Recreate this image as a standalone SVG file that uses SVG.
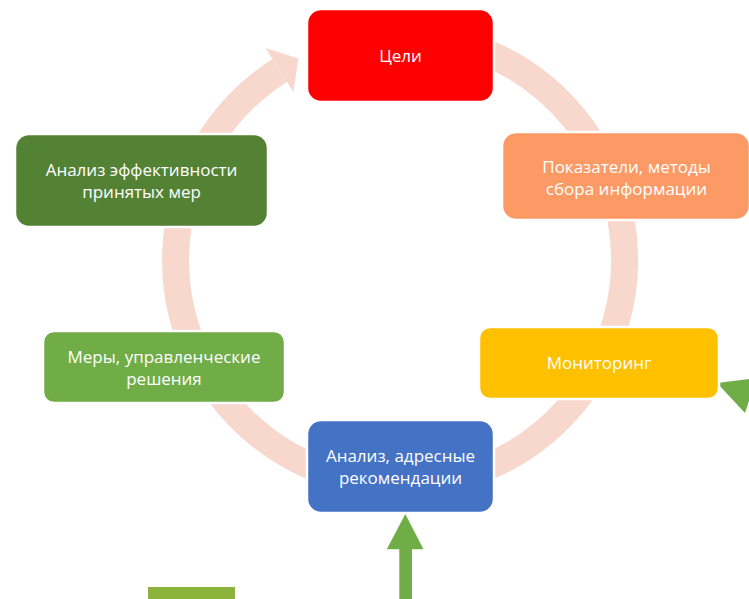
<svg xmlns="http://www.w3.org/2000/svg" width="749" height="599" viewBox="0 0 749 599">
<style>
.box{stroke:#fff;stroke-width:2.5}
.t{font-family:"Open Sans","Noto Sans","DejaVu Sans",sans-serif;font-size:17px;fill:#fff;text-anchor:middle}
.ring{fill:none;stroke:#F8D7CC;stroke-width:27}
.head{fill:#F8D7CC}
.garrow{fill:#70AD47}
</style>
<rect width="749" height="599" fill="#fff"/>
<g id="connectors">
<path class="ring" d="M 380.43 36.35 A 224.5 224.5 0 1 1 279.7 70.5"/>
<polygon class="head" points="265.5,48.1 298.3,58.6 293.4,92.0"/>
<polygon class="garrow" points="717,383 756.5,378 745,413"/>
<path class="garrow" d="M405.3,514 L423.5,549.3 L412,549.3 L412,599 L399.3,599 L399.3,549.3 L386.8,549.3 Z"/>
</g>
<g id="n-goals">
<rect class="box" x="307" y="9" width="187" height="93" rx="14" fill="#FF0000"/>
<text class="t" x="400.5" y="61.5">Цели</text>
</g>
<g id="n-indicators">
<rect class="box" x="502" y="132" width="248" height="88" rx="14" fill="#FC9A66"/>
<text class="t" x="626.5" y="172.5">Показатели, методы</text>
<text class="t" x="626.5" y="194.5">сбора информации</text>
</g>
<g id="n-monitoring">
<rect class="box" x="479" y="327" width="240" height="72" rx="11" fill="#FFC000"/>
<text class="t" x="599" y="368.5">Мониторинг</text>
</g>
<g id="n-analysis">
<rect class="box" x="307" y="420" width="187" height="93" rx="14" fill="#4472C4"/>
<text class="t" x="400.5" y="461.5">Анализ, адресные</text>
<text class="t" x="400.5" y="483.5">рекомендации</text>
</g>
<g id="n-measures">
<rect class="box" x="43" y="331" width="242" height="72" rx="11" fill="#70AD47"/>
<text class="t" x="164" y="362.5">Меры, управленческие</text>
<text class="t" x="164" y="384.5">решения</text>
</g>
<g id="n-effect">
<rect class="box" x="15" y="134" width="253" height="93" rx="14" fill="#548235"/>
<text class="t" x="141.5" y="175.5">Анализ эффективности</text>
<text class="t" x="141.5" y="197.5">принятых мер</text>
</g>
<g id="n-bottom-left">
<rect x="148" y="587" width="87" height="12" fill="#8CB43C"/>
</g>
</svg>
